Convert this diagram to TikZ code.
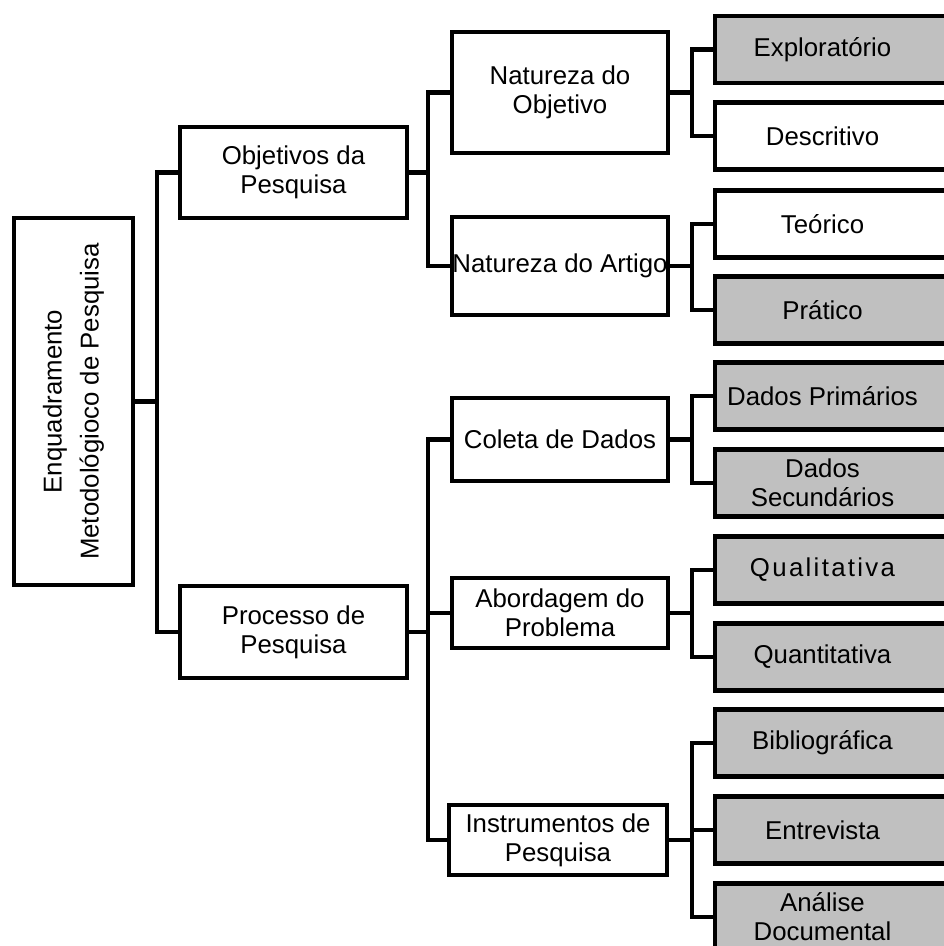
\documentclass[tikz,border=0pt]{standalone}
\usepackage{fontspec}
\setmainfont{Liberation Sans}
\definecolor{boxgray}{RGB}{192,192,192}
\tikzset{
  lw/.style={line width=4.6pt},
  box/.style={draw, lw, rectangle, inner sep=0pt, outer sep=0pt, align=center,
              font=\fontsize{25.8}{29}\selectfont},
  mbox/.style={box, minimum width=216pt},
  rbox/.style={box, minimum width=250pt, minimum height=67pt, anchor=west},
  grayfill/.style={fill=boxgray},
  txt/.style={align=center, xshift=-17.5pt, inner sep=0pt, font=\fontsize{25.8}{29}\selectfont},
  conn/.style={lw, line join=miter}
}
\begin{document}
\begin{tikzpicture}[x=1pt,y=-1pt]
\useasboundingbox (0,0) rectangle (944,946);
\clip (0,0) rectangle (944,946);
% root
\node[box, minimum width=119pt, minimum height=367pt,
  label={[rotate=90,align=center,inner sep=0pt,font=\fontsize{25.8}{37}\selectfont]center:Enquadramento\\Metodológioco de Pesquisa}]
  (root) at (73.5,401.5) {};
% level 1
\node[box, minimum width=227pt, minimum height=91pt] (obj) at (293.5,172.5) {Objetivos da\\Pesquisa};
\node[box, minimum width=227pt, minimum height=92pt] (proc) at (293.5,632) {Processo de\\Pesquisa};
% level 2
\node[mbox, minimum height=121pt] (nobj) at (560,92.5) {Natureza do\\Objetivo};
\node[mbox, minimum height=98pt] (nart) at (560,266) {Natureza do Artigo};
\node[mbox, minimum height=83pt] (col) at (560,439.5) {Coleta de Dados};
\node[mbox, minimum height=70pt] (abo) at (560,613) {Abordagem do\\Problema};
\node[mbox, minimum height=70pt, minimum width=218pt] (ins) at (558,840) {Instrumentos de\\Pesquisa};
% level 3
\node[rbox, grayfill, label={[txt]center:Exploratório}] (exp) at (715,49.5) {};
\node[rbox, label={[txt]center:Descritivo}] (des) at (715,136) {};
\node[rbox, label={[txt]center:Teórico}] (teo) at (715,224) {};
\node[rbox, grayfill, label={[txt]center:Prático}] (pra) at (715,310) {};
\node[rbox, grayfill, label={[txt]center:Dados Primários}] (dpr) at (715,396) {};
\node[rbox, grayfill, label={[txt]center:{Dados\\Secundários}}] (dse) at (715,483) {};
\node[rbox, grayfill, label={[txt]center:{\addfontfeature{LetterSpace=9}Qualitativa}}] (qual) at (715,570) {};
\node[rbox, grayfill, label={[txt]center:Quantitativa}] (quan) at (715,657) {};
\node[rbox, grayfill, label={[txt]center:Bibliográfica}] (bib) at (715,743) {};
\node[rbox, grayfill, label={[txt]center:Entrevista}] (ent) at (715,830) {};
\node[rbox, grayfill, label={[txt]center:{Análise\\Documental}}] (ana) at (715,917) {};
% bus coordinates
\coordinate (b1) at (157,401.5);
\coordinate (b2a) at (428,172.5);
\coordinate (b2b) at (428,632);
\coordinate (b3a) at (692,92.5);
\coordinate (b3b) at (692,266);
\coordinate (b3c) at (692,439.5);
\coordinate (b3d) at (692,613);
\coordinate (b3e) at (692,840);
% connectors
\draw[conn] (root.east) -- (b1);
\draw[conn] (obj.west) -| (b1) |- (proc.west);
\draw[conn] (obj.east) -- (b2a);
\draw[conn] (nobj.west) -| (b2a) |- (nart.west);
\draw[conn] (proc.east) -- (b2b);
\draw[conn] (col.west) -| (b2b) |- (ins.west);
\draw[conn] (abo.west) -- (abo.west -| b2b);
\draw[conn] (nobj.east) -- (b3a);
\draw[conn] (exp.west) -| (b3a) |- (des.west);
\draw[conn] (nart.east) -- (b3b);
\draw[conn] (teo.west) -| (b3b) |- (pra.west);
\draw[conn] (col.east) -- (b3c);
\draw[conn] (dpr.west) -| (b3c) |- (dse.west);
\draw[conn] (abo.east) -- (b3d);
\draw[conn] (qual.west) -| (b3d) |- (quan.west);
\draw[conn] (ins.east) -- (b3e);
\draw[conn] (bib.west) -| (b3e) |- (ana.west);
\draw[conn] (ent.west) -- (ent.west -| b3e);
\end{tikzpicture}
\end{document}
